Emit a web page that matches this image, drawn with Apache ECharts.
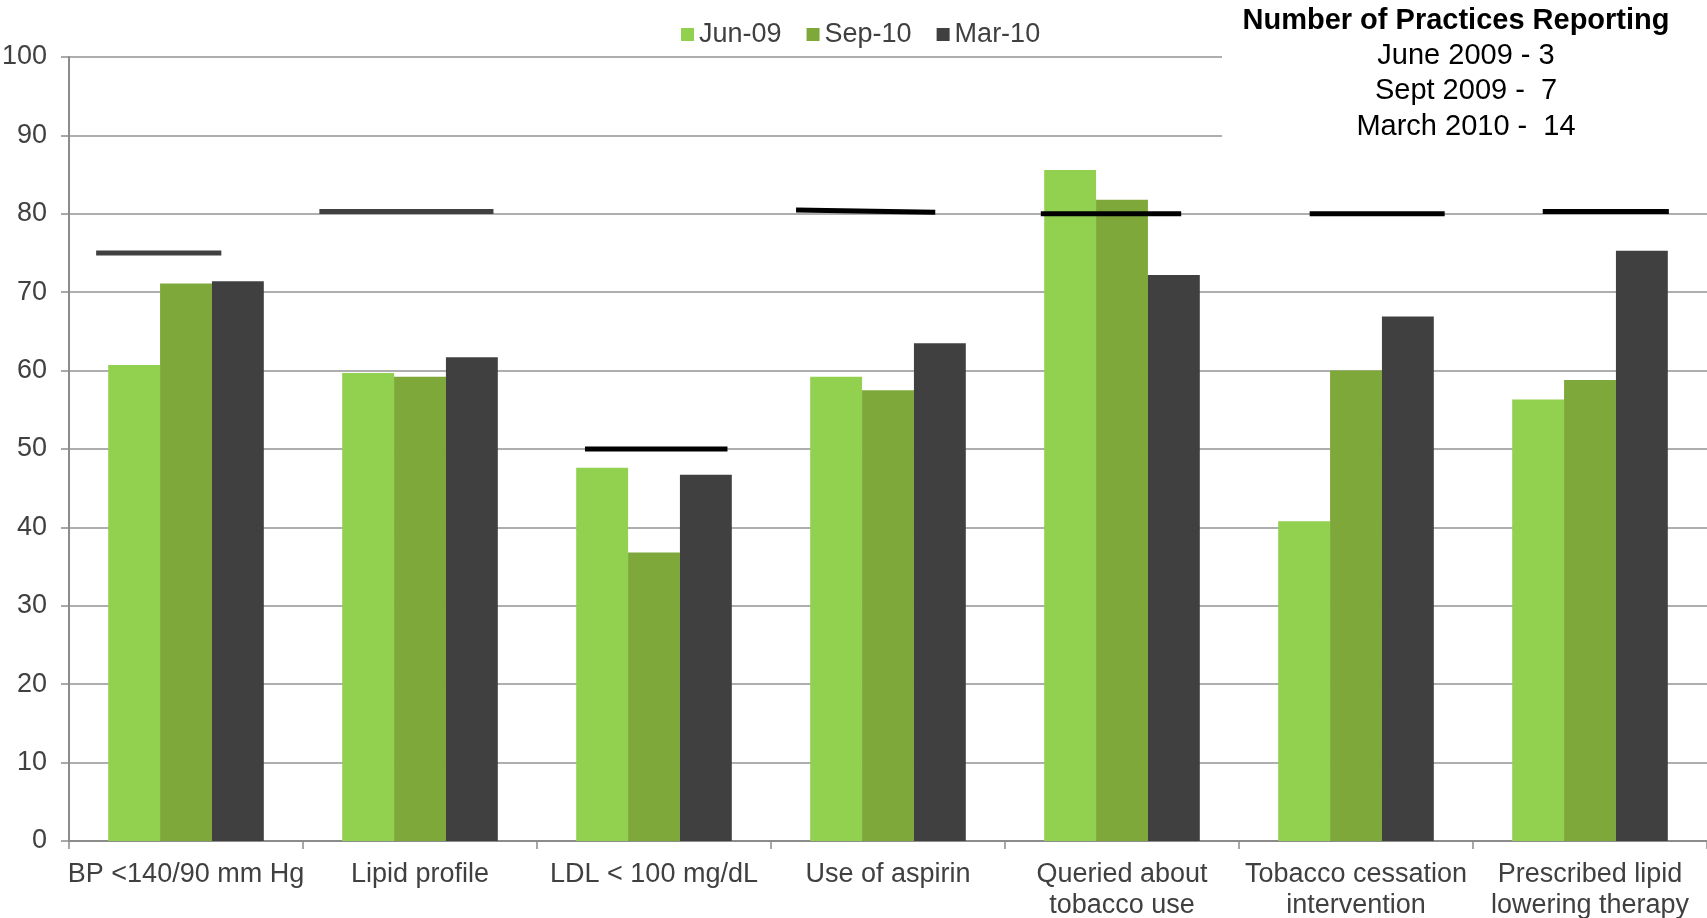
<!DOCTYPE html>
<html>
<head>
<meta charset="utf-8">
<script src="https://cdn.jsdelivr.net/npm/echarts@6/dist/echarts.min.js"></script>
<style>
  html, body { margin: 0; padding: 0; background: #fff; }
  #chart { width: 1707px; height: 918px; }
</style>
</head>
<body>
<div id="chart"></div>
<script>
// Quality measures, percent of patients meeting each measure
const categories = [
  'BP <140/90 mm Hg',
  'Lipid profile',
  'LDL < 100 mg/dL',
  'Use of aspirin',
  'Queried about\ntobacco use',
  'Tobacco cessation\nintervention',
  'Prescribed lipid\nlowering therapy'
];
const seriesNames = ['Jun-09', 'Sep-10', 'Mar-10'];
const jun09 = [60.7, 59.7, 47.6, 59.2, 85.6, 40.8, 56.3];
const sep10 = [71.1, 59.2, 36.8, 57.5, 81.8, 60.0, 58.8];
const mar10 = [71.4, 61.7, 46.7, 63.5, 72.2, 66.9, 75.3];
// Goal level for each measure (left end, right end)
const goalsStart = [75, 80.3, 50, 80.5, 80, 80, 80.3];
const goalsEnd = [75, 80.3, 50, 80.2, 80, 80, 80.3];
const yTicks = { min: 0, max: 100, interval: 10 };

const boxTitle = 'Number of Practices Reporting';
const boxLines = ['June 2009 - 3', 'Sept 2009 -  7', 'March 2010 -  14'];

// Horizontal extent of each goal bar, as a fraction of the category band around its centre
const goalSpan = [
  [-0.384, 0.151], [-0.430, 0.314], [-0.295, 0.314], [-0.393, 0.202],
  [-0.347, 0.253], [-0.198, 0.379], [-0.202, 0.337]
];
const goalColors = ['#404040', '#404040', '#000', '#000', '#000', '#000', '#000'];

const colors = ['#92d050', '#7ea83a', '#404040'];
const font = '"Liberation Sans", Arial, sans-serif';

const chart = echarts.init(document.getElementById('chart'), null, { renderer: 'canvas' });

const barSeries = [jun09, sep10, mar10].map((vals, i) => ({
  name: seriesNames[i],
  type: 'bar',
  data: vals,
  barGap: '0%',
  barCategoryGap: '33.5%',
  itemStyle: { color: colors[i] },
  z: 2
}));

const goalSeries = {
  name: 'Goal',
  type: 'custom',
  data: goalsStart.map((g, i) => [i, g, goalsEnd[i]]),
  z: 5,
  renderItem: function (params, api) {
    const idx = api.value(0);
    const a = api.coord([idx, api.value(1)]);
    const b = api.coord([idx, api.value(2)]);
    const w = api.size([1, 0])[0];
    const span = goalSpan[idx];
    const x0 = a[0] + span[0] * w;
    const x1 = a[0] + span[1] * w;
    return {
      type: 'polygon',
      shape: {
        points: [
          [x0, a[1] - 2.5], [x1, b[1] - 2.5],
          [x1, b[1] + 2.5], [x0, a[1] + 2.5]
        ]
      },
      style: { fill: goalColors[idx] }
    };
  }
};

chart.setOption({
  animation: false,
  textStyle: { fontFamily: font },
  color: colors,
  grid: { left: 69, right: 0, top: 57, bottom: 77, containLabel: false, outerBoundsMode: 'none' },
  legend: {
    data: seriesNames,
    left: 676,
    top: 16,
    icon: 'rect',
    itemWidth: 13,
    itemHeight: 13,
    itemGap: 25,
    textStyle: { fontSize: 27, color: '#404040', fontFamily: font }
  },
  xAxis: {
    type: 'category',
    data: categories,
    boundaryGap: true,
    axisLine: { show: true, lineStyle: { color: '#8c8c8c', width: 2 } },
    axisTick: { show: true, length: 8, alignWithLabel: false, lineStyle: { color: '#8c8c8c', width: 1.5 } },
    axisLabel: {
      interval: 0,
      margin: 18,
      fontSize: 27,
      lineHeight: 31,
      color: '#404040',
      fontFamily: font
    },
    splitLine: { show: false }
  },
  yAxis: {
    type: 'value',
    min: yTicks.min,
    max: yTicks.max,
    interval: yTicks.interval,
    axisLine: { show: true, lineStyle: { color: '#8c8c8c', width: 2 } },
    axisTick: { show: true, length: 8, lineStyle: { color: '#8c8c8c', width: 1.5 } },
    axisLabel: { margin: 22, fontSize: 27, color: '#404040', fontFamily: font },
    splitLine: { show: true, lineStyle: { color: '#939393', width: 1.5 } }
  },
  graphic: [
    { type: 'rect', z: 100, zlevel: 1, shape: { x: 1222, y: 0, width: 485, height: 150 }, style: { fill: '#fff' } },
    {
      type: 'text', z: 101, zlevel: 1, x: 1456, y: 21,
      style: { text: boxTitle, fontSize: 29, fontWeight: 'bold', fill: '#000', fontFamily: font, align: 'center', verticalAlign: 'middle' }
    },
    ...boxLines.map((t, i) => ({
      type: 'text', z: 101, zlevel: 1, x: 1466, y: 56 + i * 35.4,
      style: { text: t, fontSize: 29, fill: '#000', fontFamily: font, align: 'center', verticalAlign: 'middle' }
    }))
  ],
  series: [...barSeries, goalSeries]
});
</script>
</body>
</html>
